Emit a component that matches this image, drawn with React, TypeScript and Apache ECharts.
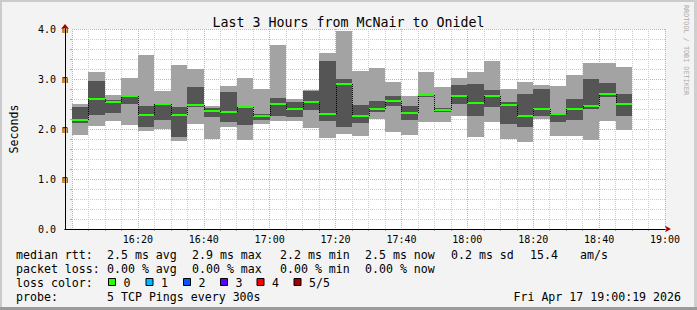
import React, { useEffect, useRef } from "react";
import * as echarts from "echarts";

// ---- data ----
const slotStarts = [
  "16:00", "16:05", "16:10", "16:15", "16:20", "16:25", "16:30", "16:35", "16:40", "16:45",
  "16:50", "16:55", "17:00", "17:05", "17:10", "17:15", "17:20", "17:25", "17:30", "17:35",
  "17:40", "17:45", "17:50", "17:55", "18:00", "18:05", "18:10", "18:15", "18:20", "18:25",
  "18:30", "18:35", "18:40", "18:45",
];
const slotMinutes = 5;
// ping values in ms (sorted pings: min, 2nd, median, 4th, max)
const pingMin = [1.89, 2.07, 2.17, 2.09, 1.97, 2.01, 1.77, 2.11, 1.81, 2.05, 1.79, 2.11, 2.17, 2.17, 2.03, 1.83, 1.91, 1.87, 2.21, 1.95, 1.89, 2.15, 2.15, 2.27, 1.85, 2.15, 1.81, 1.75, 2.21, 1.87, 1.87, 1.79, 2.17, 1.99];
const pingLow = [2.12, 2.29, 2.33, 2.51, 2.05, 2.19, 1.85, 2.43, 2.25, 2.14, 2.09, 2.18, 2.27, 2.25, 2.39, 2.17, 2.05, 2.13, 2.34, 2.45, 2.19, 2.65, 2.34, 2.49, 2.27, 2.43, 2.11, 2.05, 2.27, 2.15, 2.19, 2.41, 2.65, 2.27];
const pingMedian = [2.19, 2.61, 2.55, 2.67, 2.29, 2.49, 2.29, 2.47, 2.37, 2.35, 2.44, 2.27, 2.49, 2.41, 2.55, 2.31, 2.91, 2.27, 2.41, 2.57, 2.33, 2.69, 2.39, 2.67, 2.53, 2.67, 2.47, 2.27, 2.41, 2.31, 2.41, 2.45, 2.71, 2.51];
const pingHigh = [2.43, 2.97, 2.58, 2.68, 2.45, 2.52, 2.43, 2.85, 2.42, 2.75, 2.45, 2.31, 2.63, 2.55, 2.77, 3.37, 3.01, 2.47, 2.57, 2.67, 2.45, 2.70, 2.42, 2.89, 2.91, 2.79, 2.55, 2.71, 2.81, 2.33, 2.61, 3.01, 2.93, 2.71];
const pingMax = [2.51, 3.15, 2.69, 3.03, 3.49, 2.77, 3.29, 3.21, 2.45, 2.87, 3.03, 2.81, 3.69, 2.61, 2.79, 3.53, 3.97, 3.17, 3.23, 2.95, 2.67, 3.15, 2.85, 3.03, 3.15, 3.37, 2.81, 2.95, 2.89, 2.87, 3.09, 3.33, 3.33, 3.25];

const axisStart = "16:00";
const axisEnd = "19:00";
const xTickLabels = ["16:00", "16:20", "16:40", "17:00", "17:20", "17:40", "18:00", "18:20", "18:40", "19:00"];
const yTickLabels = ["0.0", "1.0 m", "2.0 m", "3.0 m", "4.0 m"];

const legendRtt = ["2.5 ms avg", "2.9 ms max", "2.2 ms min", "2.5 ms now", "0.2 ms sd", "15.4", "am/s"];
const legendLoss = ["0.00 % avg", "0.00 % max", "0.00 % min", "0.00 % now"];
const lossLabels = ["0", "1", "2", "3", "4", "5/5"];
const lossColors = ["#26ff00", "#00b8ff", "#0059ff", "#5e00ff", "#ff0000", "#a00000"];
const probeText = "5 TCP Pings every 300s";
const dateText = "Fri Apr 17 19:00:19 2026";

const FONT = "'DejaVu Sans Mono', monospace";

const toMin = (t: string) => {
  const [h, m] = t.split(":").map(Number);
  const [h0, m0] = axisStart.split(":").map(Number);
  return h * 60 + m - (h0 * 60 + m0);
};

export default function App() {
  const ref = useRef<HTMLDivElement>(null);
  useEffect(() => {
    if (!ref.current) return;
    const chart = echarts.init(ref.current, null, { renderer: "svg" });
    const data = slotStarts.map((t, i) => [
      toMin(t), toMin(t) + slotMinutes, pingMin[i], pingLow[i], pingMedian[i], pingHigh[i], pingMax[i],
    ]);
    const xMax = toMin(axisEnd);

    const rttX = [107, 192, 280, 365, 451, 530, 580];
    const lossX = [107, 192, 280, 365];
    const boxX = [108, 145.5, 183, 220, 256.5, 293.5];
    const rowY = [255, 268.5, 282.5, 296.5];
    const txt = (text: string, x: number, y: number, extra: any = {}) => ({
      type: "text", x, y, silent: true,
      style: { text, fill: "#000", font: `11.6px ${FONT}`, textVerticalAlign: "middle", ...extra },
    });

    const graphics: any[] = [
      txt("median rtt:", 16, rowY[0]),
      ...legendRtt.map((s, i) => txt(s, rttX[i], rowY[0])),
      txt("packet loss:", 16, rowY[1]),
      ...legendLoss.map((s, i) => txt(s, lossX[i], rowY[1])),
      txt("loss color:", 16, rowY[2]),
      ...lossLabels.map((s, i) => ({
        type: "rect", silent: true,
        shape: { x: boxX[i] + 0.5, y: 278.5, width: 7, height: 7 },
        style: { fill: lossColors[i], stroke: "#000", lineWidth: 1 },
      })),
      ...lossLabels.map((s, i) => txt(s, boxX[i] + 15.5, rowY[2])),
      txt("probe:", 16, rowY[3]),
      txt(probeText, 107, rowY[3]),
      txt(dateText, 681, rowY[3], { textAlign: "right" }),
      {
        type: "text", x: 686, y: 50, rotation: -Math.PI / 2, silent: true,
        style: { text: "RRDTOOL / TOBI OETIKER", fill: "#aaaaaa", font: `6.8px ${FONT}`, textAlign: "center", textVerticalAlign: "middle" },
      },
      // frame shading
      { type: "rect", silent: true, shape: { x: 0, y: 0, width: 697, height: 2 }, style: { fill: "#cbcbcb" } },
      { type: "rect", silent: true, shape: { x: 0, y: 0, width: 2, height: 310 }, style: { fill: "#cbcbcb" } },
      { type: "rect", silent: true, shape: { x: 694, y: 0, width: 3, height: 310 }, style: { fill: "#cfcfcf" } },
      { type: "rect", silent: true, shape: { x: 0, y: 307, width: 697, height: 3 }, style: { fill: "#9a9a9a" } },
    ];

    const hidden = {
      axisTick: { show: false }, minorTick: { show: false }, axisLabel: { show: false },
      splitLine: { show: false }, minorSplitLine: { show: false },
    };
    const gridRect = { left: 65, right: 32, top: 29, bottom: 81 };

    const option: any = {
      animation: false,
      backgroundColor: "#f3f3f3",
      title: {
        text: "Last 3 Hours from McNair to Onidel",
        left: "center",
        top: 11,
        textStyle: { fontFamily: FONT, fontSize: 13.3, fontWeight: "normal", color: "#000" },
      },
      grid: [
        { show: true, ...gridRect, backgroundColor: "#ffffff", borderWidth: 0 },
        { show: false, ...gridRect },
        { show: false, ...gridRect },
      ],
      xAxis: [
        {
          gridIndex: 0, type: "value", min: 0, max: xMax, interval: 20, z: 0, position: "bottom",
          axisLine: { show: false, onZero: false },
          axisTick: { show: false },
          minorTick: { show: true, splitNumber: 4, length: 2, lineStyle: { color: "#aaaaaa" } },
          splitLine: { show: true, lineStyle: { color: "#f0a0a0", type: [1, 1], width: 1 } },
          minorSplitLine: { show: true, lineStyle: { color: "#cccccc", type: [1, 1], width: 1 } },
          axisLabel: {
            showMinLabel: false, margin: 5, fontFamily: FONT, fontSize: 10, color: "#000",
            formatter: (v: number) => xTickLabels[Math.round(v / 20)] ?? "",
          },
        },
        {
          gridIndex: 1, type: "value", min: 0, max: xMax, z: 5, position: "bottom",
          axisLine: { show: true, onZero: false, lineStyle: { color: "#a00000", width: 1 }, symbol: ["none", "arrow"], symbolSize: [5, 6], symbolOffset: [0, 6] },
          ...hidden,
        },
        {
          gridIndex: 2, type: "value", min: 0, max: xMax, z: 6, position: "bottom",
          axisLine: { show: true, onZero: false, lineStyle: { color: "#000", width: 1 } },
          ...hidden,
        },
      ],
      yAxis: [
        {
          gridIndex: 0, type: "value", min: 0, max: 4, interval: 1, z: 0, position: "left",
          name: "Seconds", nameLocation: "middle", nameGap: 52, nameRotate: 90,
          nameTextStyle: { fontFamily: FONT, fontSize: 11.6, color: "#000" },
          axisLine: { show: false, onZero: false },
          axisTick: { show: false },
          minorTick: { show: true, splitNumber: 5, length: 2, lineStyle: { color: "#aaaaaa" } },
          splitLine: { show: true, lineStyle: { color: "#f0a0a0", type: [1, 1], width: 1 } },
          minorSplitLine: { show: true, lineStyle: { color: "#cccccc", type: [1, 1], width: 1 } },
          axisLabel: {
            align: "left", margin: 34, fontFamily: FONT, fontSize: 10, color: "#000",
            formatter: (v: number) => yTickLabels[Math.round(v)] ?? "",
          },
        },
        {
          gridIndex: 1, type: "value", min: 0, max: 4, z: 5, position: "left",
          axisLine: { show: true, onZero: false, lineStyle: { color: "#a00000", width: 1 }, symbol: ["none", "arrow"], symbolSize: [6, 5], symbolOffset: [0, 5] },
          ...hidden,
        },
        {
          gridIndex: 2, type: "value", min: 0, max: 4, z: 6, position: "left",
          axisLine: { show: true, onZero: false, lineStyle: { color: "#000", width: 1 } },
          ...hidden,
        },
      ],
      series: [
        {
          type: "custom",
          xAxisIndex: 0,
          yAxisIndex: 0,
          z: 2,
          data,
          encode: { x: [0, 1], y: [2, 6] },
          renderItem: (params: any, api: any) => {
            const i = params.dataIndex;
            const x0 = api.value(0);
            const x1 = api.value(1);
            const c = (x: number, y: number) => {
              const p = api.coord([x, y]);
              return [Math.round(p[0]), Math.round(p[1])];
            };
            const maxP = c(x0, api.value(6));
            const minP = c(x1, api.value(2));
            const hiP = c(x0, api.value(5));
            const loP = c(x1, api.value(3));
            const m0 = c(x0, api.value(4));
            const m1 = c(x1, api.value(4));
            const children: any[] = [
              { type: "rect", shape: { x: maxP[0], y: maxP[1], width: minP[0] - maxP[0], height: minP[1] - maxP[1] }, style: { fill: "#a3a3a3" } },
              { type: "rect", shape: { x: hiP[0], y: hiP[1], width: loP[0] - hiP[0], height: Math.max(1, loP[1] - hiP[1]) }, style: { fill: "#555555" } },
              { type: "rect", shape: { x: m0[0], y: m0[1] - 1, width: m1[0] - m0[0], height: 2 }, style: { fill: lossColors[0] } },
            ];
            if (i > 0) {
              const pv = c(x0, pingMedian[i - 1]);
              children.push({
                type: "line",
                shape: { x1: m0[0] + 0.5, y1: pv[1], x2: m0[0] + 0.5, y2: m0[1] },
                style: { stroke: "#000", lineWidth: 1, lineDash: [1, 1] },
              });
            }
            return { type: "group", children };
          },
        },
      ],
      graphic: graphics,
    };
    chart.setOption(option);
    return () => chart.dispose();
  }, []);
  return (
    <div
      ref={ref}
      style={{ position: "fixed", left: 0, top: 0, width: 697, height: 310 }}
    />
  );
}
